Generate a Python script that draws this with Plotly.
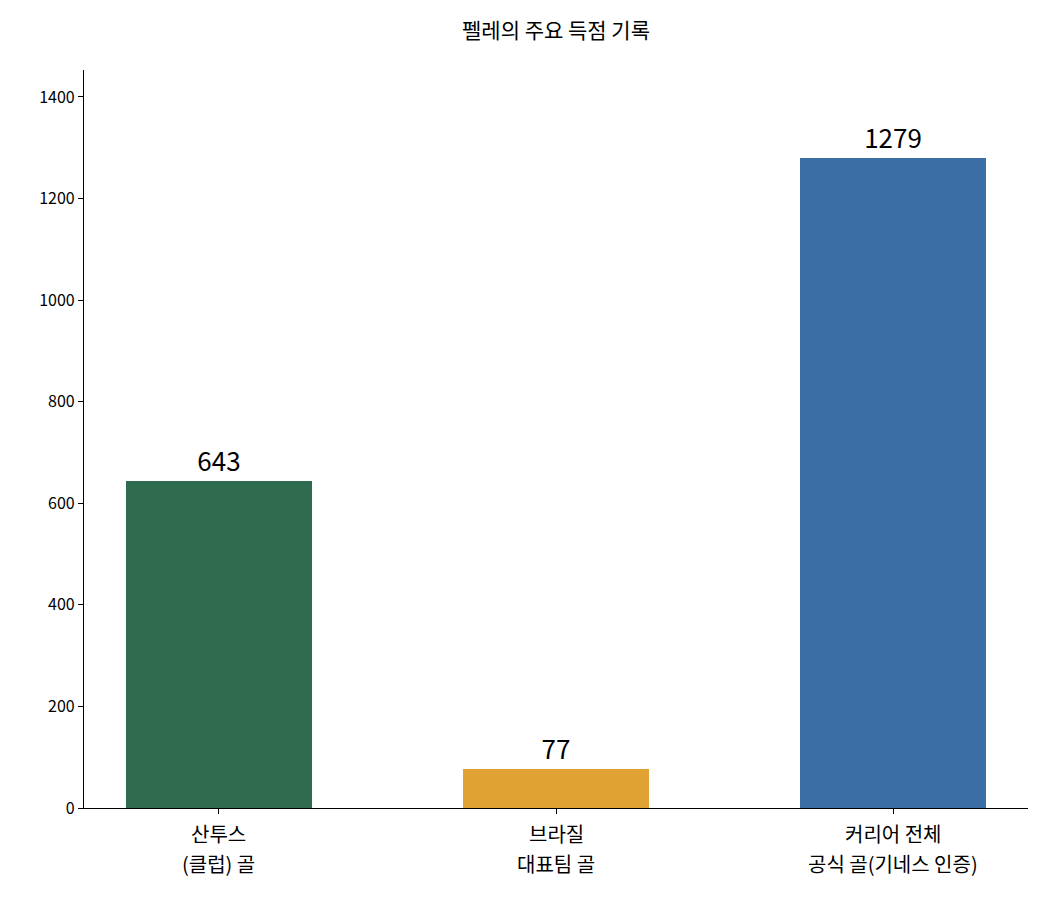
import plotly.graph_objects as go

# 막대 데이터
label_top = ["산투스", "브라질", "커리어 전체"]
label_bottom = ["(클럽) 골", "대표팀 골", "공식 골(기네스 인증)"]
goals = [643, 77, 1279]
bar_colors = ["#2f6b4e", "#e0a232", "#3b6ea5"]
y_ticks = [0, 200, 400, 600, 800, 1000, 1200, 1400]

FONT = "Noto Sans CJK KR"
positions = list(range(len(goals)))

fig = go.Figure()
fig.add_trace(go.Bar(
    x=positions,
    y=goals,
    width=0.55,
    marker=dict(color=bar_colors, line=dict(width=0)),
    text=[str(v) for v in goals],
    textposition="outside",
    textfont=dict(family=FONT, size=26, color="black"),
    cliponaxis=False,
))

# 두 줄짜리 x축 라벨 (줄 간격을 맞추기 위해 주석으로)
for i in positions:
    for line, shift in ((label_top[i], -25), (label_bottom[i], -55)):
        fig.add_annotation(
            x=i, xref="x", y=0, yref="paper", text=line, showarrow=False,
            yanchor="middle", xanchor="center", yshift=shift,
            font=dict(family=FONT, size=20, color="black"),
        )

fig.update_layout(
    width=1050, height=900,
    margin=dict(l=76, r=30, t=62, b=100),
    paper_bgcolor="white", plot_bgcolor="white",
    font=dict(family=FONT, color="black"),
    title=dict(text="펠레의 주요 득점 기록", xref="paper", x=0.5, xanchor="center",
               y=0.9744, yanchor="middle", font=dict(size=21)),
    showlegend=False,
    bargap=0,
)
fig.update_xaxes(
    range=[-0.4, 2.4], tickmode="array", tickvals=positions, ticktext=["", "", ""],
    showline=True, linecolor="black", linewidth=1.2, ticks="outside", ticklen=5,
    tickcolor="black", showgrid=False, zeroline=False,
)
fig.update_yaxes(
    range=[0, 1453], tickvals=y_ticks,
    showline=True, linecolor="black", linewidth=1.2, ticks="outside", ticklen=5,
    tickcolor="black", showgrid=False, zeroline=False,
    tickfont=dict(size=16),
)

fig.write_html("out.html")
